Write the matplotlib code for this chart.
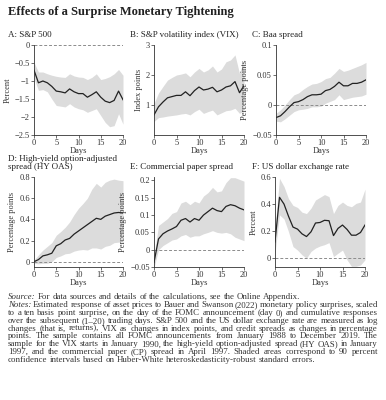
import numpy as np
import matplotlib
matplotlib.use('Agg')
import matplotlib.pyplot as plt
from matplotlib.ticker import FuncFormatter

# ****************************** data *************************************** #
days = np.arange(21)

sp500 = [-0.70, -1.05, -1.00, -1.05, -1.15, -1.28, -1.30, -1.33, -1.22, -1.30, -1.35,
         -1.35, -1.45, -1.38, -1.30, -1.45, -1.56, -1.60, -1.54, -1.28, -1.52]
sp500_hi = [-0.48, -0.75, -0.75, -0.80, -0.84, -0.87, -0.89, -0.90, -0.80, -0.86, -0.89,
            -0.90, -0.96, -0.90, -0.80, -0.96, -0.93, -0.88, -0.80, -0.68, -0.84]
sp500_lo = [-0.92, -1.26, -1.24, -1.30, -1.50, -1.68, -1.70, -1.72, -1.63, -1.72, -1.77,
            -1.80, -1.87, -1.82, -1.77, -1.96, -2.15, -2.27, -2.24, -1.91, -2.20]

vix = [0.67, 0.94, 1.10, 1.24, 1.28, 1.32, 1.32, 1.44, 1.31, 1.48, 1.60,
       1.50, 1.53, 1.59, 1.44, 1.50, 1.60, 1.64, 1.78, 1.41, 1.64]
vix_hi = [1.05, 1.40, 1.62, 1.83, 1.92, 2.00, 2.03, 2.07, 1.94, 2.10, 2.22,
          2.10, 2.17, 2.30, 2.10, 2.20, 2.44, 2.50, 2.67, 2.05, 2.52]
vix_lo = [0.45, 0.58, 0.60, 0.63, 0.65, 0.67, 0.70, 0.72, 0.67, 0.78, 0.86,
          0.72, 0.78, 0.83, 0.67, 0.74, 0.81, 0.83, 0.89, 0.72, 0.83]

baa = [-0.021, -0.018, -0.011, -0.003, 0.004, 0.0056, 0.009, 0.014, 0.017, 0.017, 0.018,
       0.024, 0.026, 0.031, 0.038, 0.032, 0.032, 0.036, 0.036, 0.038, 0.042]
baa_hi = [-0.014, -0.008, 0.000, 0.009, 0.017, 0.020, 0.026, 0.031, 0.035, 0.036, 0.039,
          0.044, 0.046, 0.053, 0.061, 0.056, 0.058, 0.061, 0.064, 0.067, 0.071]
baa_lo = [-0.027, -0.028, -0.023, -0.017, -0.011, -0.008, -0.007, -0.0056, -0.003, -0.003, -0.002,
          0.003, 0.006, 0.009, 0.017, 0.009, 0.011, 0.013, 0.014, 0.015, 0.018]

hyoas = [0.0, 0.02, 0.055, 0.065, 0.08, 0.15, 0.17, 0.205, 0.22, 0.26, 0.29,
         0.32, 0.35, 0.38, 0.41, 0.40, 0.43, 0.445, 0.46, 0.465, 0.46]
hyoas_hi = [0.015, 0.065, 0.11, 0.145, 0.18, 0.25, 0.285, 0.325, 0.375, 0.445, 0.505,
            0.55, 0.60, 0.685, 0.74, 0.705, 0.75, 0.77, 0.78, 0.77, 0.765]
hyoas_lo = [-0.015, -0.02, -0.015, -0.015, 0.0, 0.04, 0.055, 0.075, 0.08, 0.10, 0.11,
            0.115, 0.11, 0.13, 0.13, 0.12, 0.145, 0.155, 0.18, 0.185, 0.185]

cp = [-0.037, 0.031, 0.046, 0.054, 0.060, 0.067, 0.085, 0.090, 0.080, 0.090, 0.085,
      0.100, 0.110, 0.120, 0.113, 0.110, 0.125, 0.130, 0.127, 0.120, 0.115]
cp_hi = [-0.018, 0.070, 0.080, 0.090, 0.105, 0.110, 0.135, 0.140, 0.130, 0.140, 0.135,
         0.155, 0.165, 0.180, 0.167, 0.170, 0.194, 0.208, 0.208, 0.203, 0.198]
cp_lo = [-0.052, 0.000, 0.012, 0.020, 0.028, 0.031, 0.040, 0.044, 0.036, 0.040, 0.040,
         0.046, 0.050, 0.055, 0.050, 0.048, 0.050, 0.046, 0.036, 0.031, 0.026]

usd = [0.12, 0.45, 0.40, 0.31, 0.23, 0.215, 0.18, 0.16, 0.195, 0.26, 0.264,
       0.28, 0.277, 0.167, 0.22, 0.245, 0.213, 0.17, 0.17, 0.19, 0.245]
usd_hi = [0.22, 0.59, 0.53, 0.44, 0.39, 0.375, 0.34, 0.33, 0.37, 0.43, 0.45,
          0.47, 0.455, 0.33, 0.39, 0.415, 0.39, 0.38, 0.405, 0.415, 0.51]
usd_lo = [0.037, 0.32, 0.29, 0.196, 0.086, 0.06, 0.025, 0.0, 0.05, 0.075, 0.09,
          0.10, 0.115, 0.012, 0.037, 0.06, -0.012, -0.06, -0.06, -0.05, -0.012]

titles = ['A: S&P 500', 'B: S&P volatility index (VIX)', 'C: Baa spread',
          'D: High-yield option-adjusted\nspread (HY OAS)', 'E: Commercial paper spread',
          'F: US dollar exchange rate']
ylabels = ['Percent', 'Index points', 'Percentage points',
           'Percentage points', 'Percentage points', 'Percent']
yticks = [[0, -0.5, -1, -1.5, -2, -2.5], [1, 2, 3], [-0.05, 0, 0.05, 0.1],
          [0, 0.2, 0.4, 0.6, 0.8], [-0.05, 0, 0.05, 0.1, 0.15, 0.2], [0, 0.2, 0.4, 0.6]]
ylims = [(-2.5, 0), (0, 3), (-0.05, 0.1), (-0.05, 0.8), (-0.05, 0.21), (-0.065, 0.6)]

series = [(sp500, sp500_lo, sp500_hi), (vix, vix_lo, vix_hi), (baa, baa_lo, baa_hi),
          (hyoas, hyoas_lo, hyoas_hi), (cp, cp_lo, cp_hi), (usd, usd_lo, usd_hi)]

# (italic lead, body, justified?)
notes = [
    ('Source:', 'For data sources and details of the calculations, see the Online Appendix.', False),
    ('Notes:', 'Estimated response of asset prices to Bauer and Swanson (2022) monetary policy surprises, scaled', True),
    ('', 'to a ten basis point surprise, on the day of the FOMC announcement (day 0) and cumulative responses', True),
    ('', 'over the subsequent (1\u201320) trading days. S&P 500 and the US dollar exchange rate are measured as log', True),
    ('', 'changes (that is, returns), VIX as changes in index points, and credit spreads as changes in percentage', True),
    ('', 'points. The sample contains all FOMC announcements from January 1988 to December 2019. The', True),
    ('', 'sample for the VIX starts in January 1990, the high-yield option-adjusted spread (HY OAS) in January', True),
    ('', '1997, and the commercial paper (CP) spread in April 1997. Shaded areas correspond to 90 percent', True),
    ('', 'confidence intervals based on Huber-White heteroskedasticity-robust standard errors.', False),
]

# *************************************************************************** #
plt.rcParams['font.family'] = ['Liberation Serif', 'DejaVu Serif']

W, H = 386, 400
fig = plt.figure(figsize=(W / 100, H / 100), dpi=100)

# pixel boxes (left, right, top, bottom)
boxes = [(34, 123, 45, 135), (154, 244, 45, 135), (276, 366, 45, 135),
         (34, 123, 177, 267), (154, 244, 177, 267), (275, 365, 177, 267)]
title_pos = [(8, 35), (130, 35), (252, 35), (8, 163), (130, 167), (252, 167)]

fmt = FuncFormatter(lambda v, _: ('%g' % v).replace('-', '\u2212') if abs(v) > 1e-12 else '0')

for k in range(6):
    l, r, t, b = boxes[k]
    ax = fig.add_axes([l / W, 1 - b / H, (r - l) / W, (b - t) / H])
    y, lo, hi = series[k]
    ax.fill_between(days, lo, hi, color='#dcdcdc', lw=0)
    ax.axhline(0, color='#8c8c8c', lw=0.7, ls=(0, (3, 2)))
    ax.plot(days, y, color='#222222', lw=0.9)
    ax.set_xlim(0, 20)
    ax.set_ylim(*ylims[k])
    ax.set_xticks([0, 5, 10, 15, 20])
    ax.set_yticks(yticks[k])
    ax.yaxis.set_major_formatter(fmt)
    for s in ['top', 'right']:
        ax.spines[s].set_visible(False)
    for s in ['left', 'bottom']:
        ax.spines[s].set_linewidth(0.6)
        ax.spines[s].set_color('#333333')
    ax.tick_params(labelsize=6, length=2, width=0.5, pad=1, colors='#333333')
    ax.set_xlabel('Days', fontsize=6, labelpad=0, color='#333333')
    ax.set_ylabel(ylabels[k], fontsize=6, labelpad=2, color='#333333')
    tx, ty = title_pos[k]
    fig.text(tx / W, 1 - ty / H, titles[k], fontsize=6.5, va='center', ha='left',
             color='#222222', linespacing=1.0)

fig.text(8 / W, 1 - 12 / H, 'Effects of a Surprise Monetary Tightening', fontsize=9,
         fontweight='bold', va='center', ha='left', color='#222222')

# notes block, justified between x0 and x1
x0, x1 = 8, 378
y0, dy = 297, 7.9
fs = 6.4
renderer = fig.canvas.get_renderer()


def width_px(s, st='normal'):
    t = fig.text(0, 0, s, fontsize=fs, style=st)
    w = t.get_window_extent(renderer).width
    t.remove()
    return w


natural_space = 0.25 * fs * 100 / 72

for i, (lead, body, just) in enumerate(notes):
    yy = 1 - (y0 + i * dy) / H
    words = []
    if lead:
        words.append((lead, 'italic'))
    words += [(w, 'normal') for w in body.split(' ')]
    widths = [width_px(w, st) for w, st in words]
    space = natural_space
    if just and len(words) > 1:
        space = (x1 - x0 - sum(widths)) / (len(words) - 1)
    x = x0
    for (w, st), wd in zip(words, widths):
        fig.text(x / W, yy, w, fontsize=fs, style=st, va='center', ha='left', color='#333333')
        x += wd + space

fig.savefig('out.png', dpi=100)
